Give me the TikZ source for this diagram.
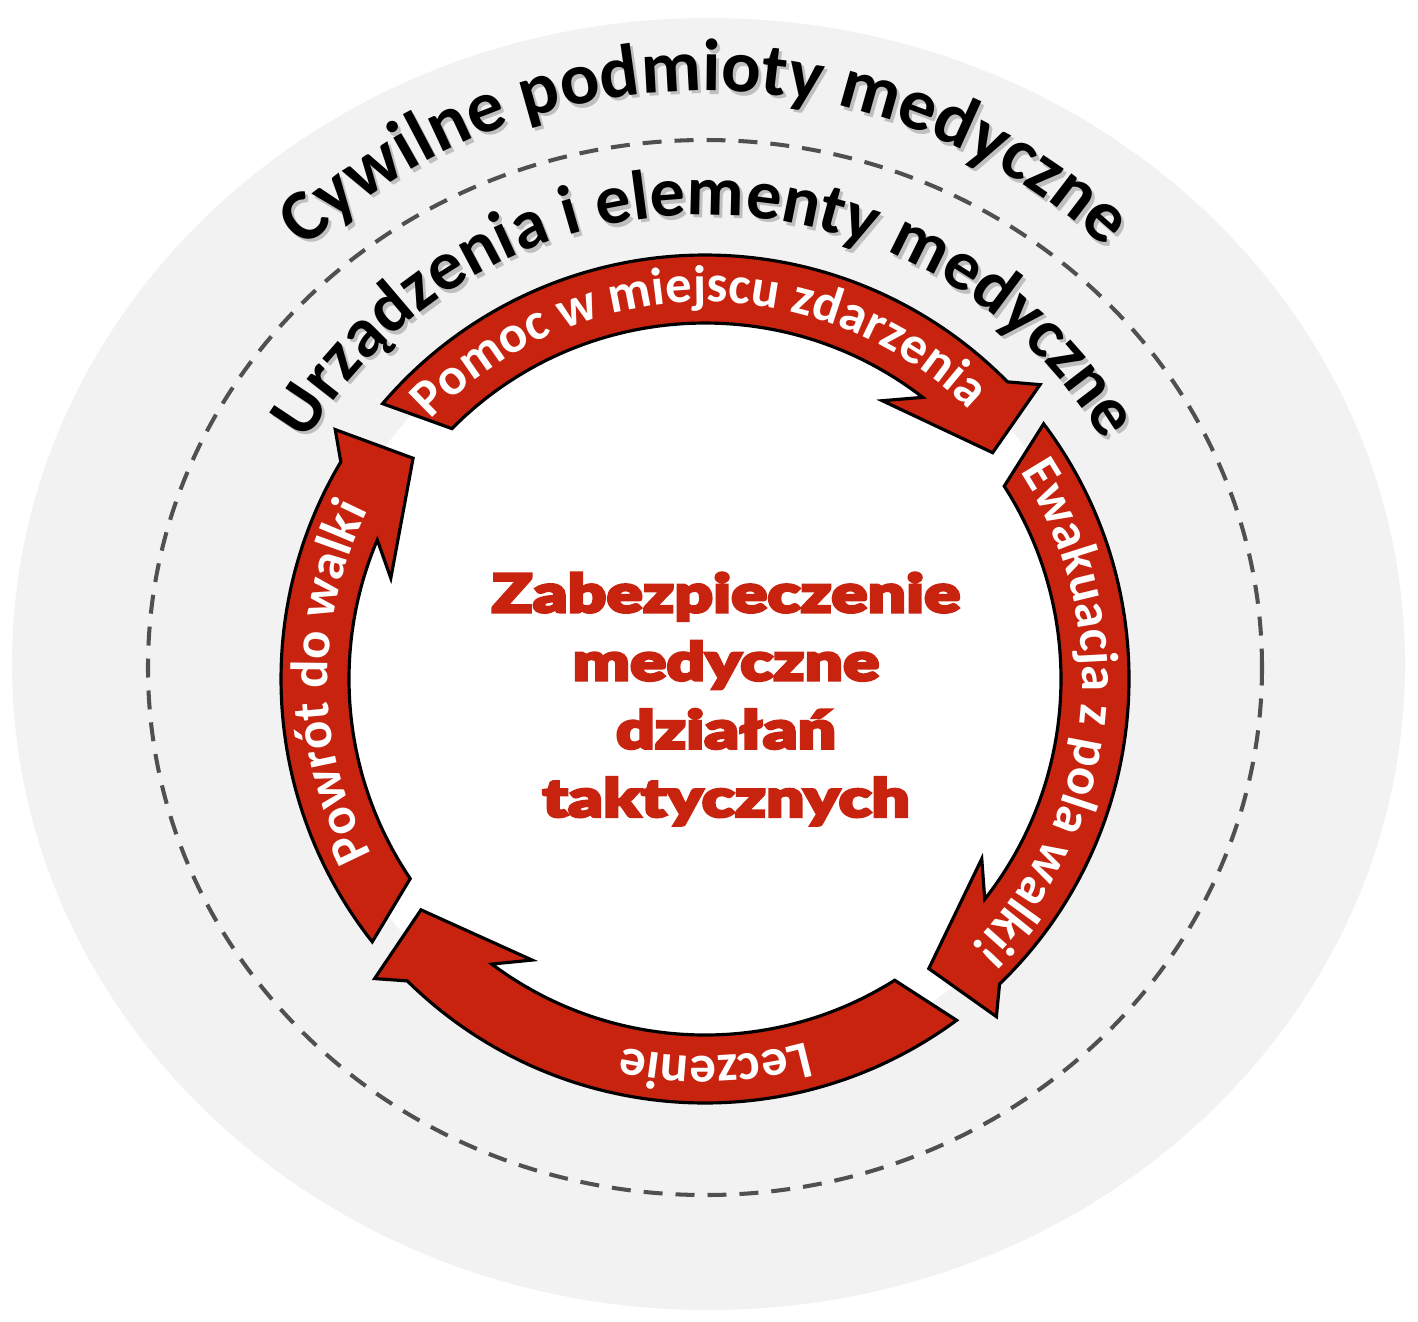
\documentclass[tikz,border=0pt]{standalone}
\usepackage{fontspec}
\setmainfont{Carlito}
\newfontfamily\heavyfont{Lato Black}[FakeStretch=1.28, FakeBold=5]
\usepackage{xcolor}
\usepackage{tikz}
\usetikzlibrary{decorations.text}

\definecolor{medred}{HTML}{C8230F}
\definecolor{diskgrey}{HTML}{F2F2F2}
\definecolor{dashgrey}{HTML}{505050}

\newcommand{\outerfont}{\fontsize{21}{25}\selectfont\bfseries}
\newcommand{\innerfont}{\fontsize{20}{24}\selectfont\bfseries}
\newcommand{\ringfont}{\fontsize{15}{18}\selectfont\bfseries}

% one red arrow of the ring: #1 tail angle, #2 head angle (clockwise)
\newcommand{\medarrow}[2]{%
  \draw[ringarrow] (#1:4.24) arc[start angle=#1, end angle=#2, radius=4.24]
    -- ({#2-3.2}:4.46) -- ({#2-6.3}:3.66) -- ({#2+13}:3.30) -- ({#2+7.8}:3.56)
    arc[start angle={#2+7.8}, end angle={#1-4.2}, radius=3.56] -- cycle;}

\tikzset{
  ringarrow/.style={fill=medred, draw=black, line width=0.9pt, line join=miter},
  archlabel/.style n args={3}{decorate, decoration={text along path, text align=center,
    text color=#3, text={|#2|#1}}},
  ringlabel/.style={decorate, decoration={text along path, text align=center,
    text color=white, text={|\ringfont|#1}}},
}

\begin{document}
\begin{tikzpicture}
    \useasboundingbox (-7.05,-6.42) rectangle (7.13,6.79);

    % grey background disk and dashed border
    \fill[diskgrey] (0.035,0.15) ellipse[x radius=6.965, y radius=6.46];
    \draw[dashgrey, line width=1.15pt, dash pattern=on 5.4pt off 3.7pt]
        (0,0.115) ellipse[x radius=5.57, y radius=5.275];
    \fill[white] (0,0) circle[radius=3.95];

    % outer captions (shadow first)
    \begin{scope}[shift={(0.03,-0.035)}]
        \path[archlabel={Cywilne podmioty medyczne}{\outerfont}{black!25}]
            (170:5.88) arc[start angle=170, end angle=10, radius=5.88];
        \path[archlabel={Urządzenia i elementy medyczne}{\innerfont}{black!25}]
            (170:4.64) arc[start angle=170, end angle=10, radius=4.64];
    \end{scope}
    \path[archlabel={Cywilne podmioty medyczne}{\outerfont}{black}]
        (170:5.88) arc[start angle=170, end angle=10, radius=5.88];
    \path[archlabel={Urządzenia i elementy medyczne}{\innerfont}{black}]
        (170:4.64) arc[start angle=170, end angle=10, radius=4.64];

    % ring of four arrows
    \medarrow{139.5}{44.5}
    \medarrow{37}{-46}
    \medarrow{-53.6}{-134.6}
    \medarrow{-141.7}{-210.8}

    % arrow labels
    \path[ringlabel={Pomoc w miejscu zdarzenia}]
        (161:3.77) arc[start angle=161, end angle=21, radius=3.77];
    \path[ringlabel={Ewakuacja z pola walki!}]
        (64:3.77) arc[start angle=64, end angle=-76, radius=3.77];
    \path[ringlabel={Leczenie}]
        (-28.5:3.77) arc[start angle=-28.5, end angle=-148.5, radius=3.77];
    \path[ringlabel={Powrót do walki}]
        (250.6:3.77) arc[start angle=250.6, end angle=110.6, radius=3.77];

    % centre title
    \node[font=\heavyfont\fontsize{15}{19.4}\selectfont, text=medred, align=center]
        (core) at (0.21,-0.2) {Zabezpieczenie\\medyczne\\działań\\taktycznych};
\end{tikzpicture}
\end{document}
